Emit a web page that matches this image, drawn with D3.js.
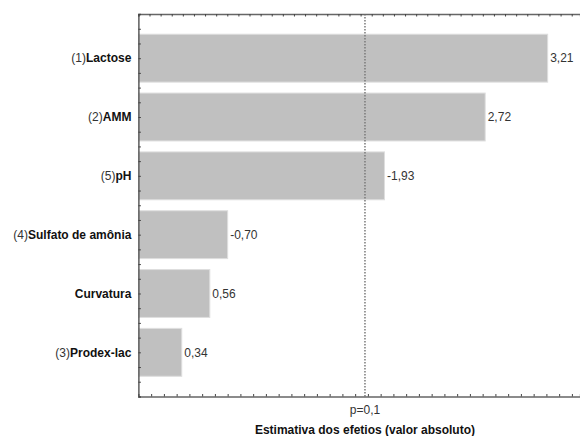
<!DOCTYPE html>
<html>
<head>
<meta charset="utf-8">
<script src="https://cdn.jsdelivr.net/npm/d3@7/dist/d3.min.js"></script>
<style>
  html, body { margin: 0; padding: 0; background: #fff; }
  svg { display: block; font-family: "Liberation Sans", Arial, sans-serif; }
</style>
</head>
<body>
<svg id="chart" width="580" height="436"></svg>
<script>
// Pareto chart of standardized effects
const prefixes = ["(1)", "(2)", "(5)", "(4)", "", "(3)"];
const factors = ["Lactose", "AMM", "pH", "Sulfato de amônia", "Curvatura", "Prodex-lac"];
const effects = [3.21, 2.72, -1.93, -0.70, 0.56, 0.34];
const pLimit = 1.777;
const pLabel = "p=0,1";
const xTitle = "Estimativa dos efetios (valor absoluto)";

const svg = d3.select("#chart");
const margin = { top: 14, right: 0, bottom: 39.5, left: 138.4 };
const W = 580, H = 436;
const plotW = W - margin.left - margin.right;
const plotH = H - margin.top - margin.bottom;

const x = d3.scaleLinear().domain([0, plotW / 127.5]).range([0, plotW]);
const y = d3.scaleBand().domain(factors).range([0, plotH])
  .paddingInner(0.186).paddingOuter(0.344);

const g = svg.append("g").attr("transform", `translate(${margin.left},${margin.top})`);

// bars
g.selectAll("rect.bar").data(factors).join("rect")
  .attr("class", "bar")
  .attr("x", 0.5)
  .attr("y", d => y(d))
  .attr("width", (d, i) => x(Math.abs(effects[i])) - 0.5)
  .attr("height", y.bandwidth())
  .attr("fill", "#c0c0c0")
  .attr("stroke", "#dedede")
  .attr("stroke-width", 1);

// value labels (comma decimal, plain hyphen for negatives)
const fmt = v => v.toFixed(2).replace(".", ",");
g.selectAll("text.val").data(factors).join("text")
  .attr("class", "val")
  .attr("x", (d, i) => x(Math.abs(effects[i])) + 2.5)
  .attr("y", d => y(d) + y.bandwidth() / 2 + 4.3)
  .attr("font-size", 12)
  .attr("fill", "#333")
  .text((d, i) => fmt(effects[i]));

// significance line
g.append("line")
  .attr("x1", x(pLimit)).attr("x2", x(pLimit))
  .attr("y1", 0).attr("y2", plotH)
  .attr("stroke", "#7a7a7a")
  .attr("stroke-width", 1.5)
  .attr("stroke-dasharray", "1.5,1.5");

// bottom axis: minor ticks every 0.1
const bottomTicks = d3.range(0.1, x.domain()[1], 0.1);
const bottomAxis = g.append("g").attr("transform", `translate(0,${plotH})`)
  .call(d3.axisBottom(x).tickValues(bottomTicks).tickSize(-2.5).tickFormat(""));
bottomAxis.select(".domain").attr("stroke", "#666").attr("stroke-width", 1.3);
bottomAxis.selectAll(".tick line").attr("stroke", "#444");

// top axis: minor ticks
const topTicks = d3.range(0, x.domain()[1], 0.08714);
const topAxis = g.append("g")
  .call(d3.axisTop(x).tickValues(topTicks).tickSize(-2.5).tickFormat(""));
topAxis.select(".domain").attr("stroke", "#666").attr("stroke-width", 1.3);
topAxis.selectAll(".tick line").attr("stroke", "#444");

// left axis: ticks at band centres, quarters and boundaries
const step = y.step();
const yTicks = [];
factors.forEach(f => {
  const c = y(f) + y.bandwidth() / 2;
  yTicks.push(c - step / 2, c - step / 4, c, c + step / 4);
});
yTicks.push(y(factors[factors.length - 1]) + y.bandwidth() / 2 + step / 2);
const yPos = d3.scaleLinear().domain([0, plotH]).range([0, plotH]);
const leftAxis = g.append("g")
  .call(d3.axisLeft(yPos).tickValues(yTicks.filter(v => v > 1 && v < plotH - 1)).tickSize(-2.5).tickFormat(""));
leftAxis.select(".domain").attr("stroke", "#444").attr("stroke-width", 1.3);
leftAxis.selectAll(".tick line").attr("stroke", "#444");

// category labels
const lab = g.selectAll("text.cat").data(factors).join("text")
  .attr("class", "cat")
  .attr("x", -7)
  .attr("y", d => y(d) + y.bandwidth() / 2 + 4.3)
  .attr("text-anchor", "end")
  .attr("font-size", 12)
  .attr("fill", "#111");
lab.append("tspan").attr("fill", "#333").text((d, i) => prefixes[i]);
lab.append("tspan").attr("font-weight", "bold").text(d => d);

// p label and axis title
g.append("text")
  .attr("x", x(pLimit)).attr("y", plotH + 17.5)
  .attr("text-anchor", "middle").attr("font-size", 12).attr("fill", "#333")
  .text(pLabel);
g.append("text")
  .attr("x", x(pLimit)).attr("y", plotH + 37.5)
  .attr("text-anchor", "middle").attr("font-size", 12).attr("font-weight", "bold").attr("fill", "#111")
  .text(xTitle);
</script>
</body>
</html>
